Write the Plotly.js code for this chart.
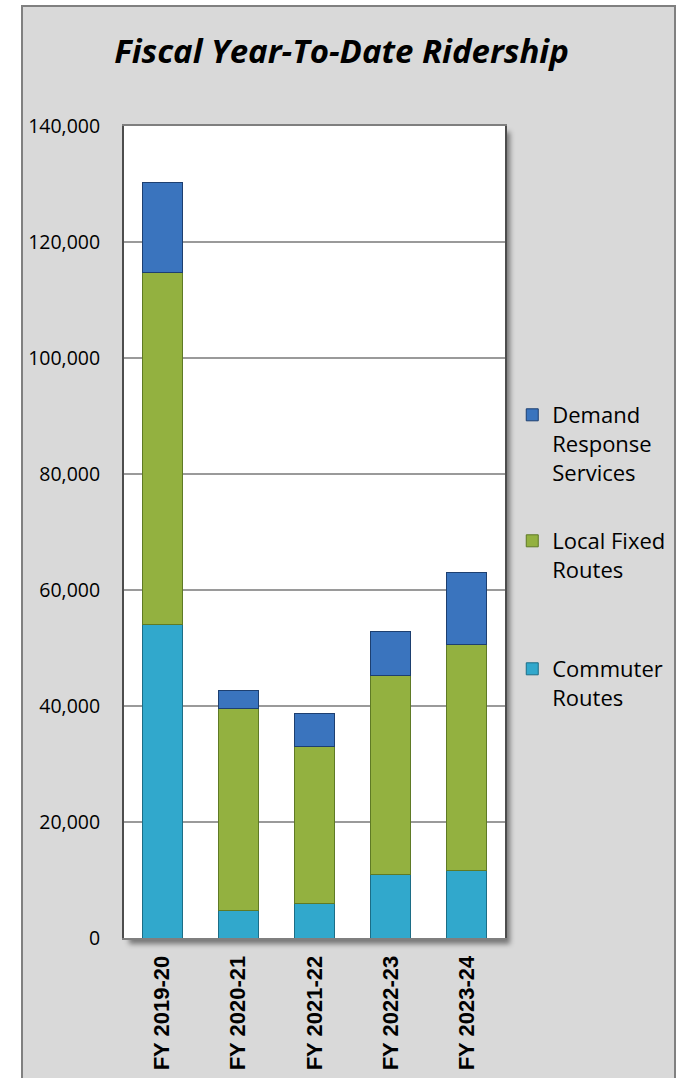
<!DOCTYPE html>
<html>
<head>
<meta charset="utf-8">
<script src="https://cdn.plot.ly/plotly-3.0.1.min.js"></script>
<style>
  html, body { margin: 0; padding: 0; background: #ffffff; }
  #frame { position: absolute; left: 21px; top: 5px; width: 651px; height: 1100px;
           background: #d9d9d9; border: 2px solid #808080; }
  #shadow { position: absolute; left: 126px; top: 128px; width: 381px; height: 812px;
            box-shadow: 3px 4px 5px rgba(0,0,0,0.45); background: #ffffff; }
  #chart { position: absolute; left: 0; top: 0; width: 683px; height: 1078px; }
</style>
</head>
<body>
<div id="frame"></div>
<div id="shadow"></div>
<div id="chart"></div>
<script>
const categories = ["FY 2019-20", "FY 2020-21", "FY 2021-22", "FY 2022-23", "FY 2023-24"];
const commuterRoutes = [54000, 4700, 5900, 10900, 11600];
const localFixedRoutes = [60800, 34800, 27100, 34300, 39000];
const demandResponse = [15400, 3100, 5700, 7600, 12400];
const yTicks = [0, 20000, 40000, 60000, 80000, 100000, 120000, 140000];

const traces = [
  { type: "bar", name: "Commuter<br>Routes", x: categories, y: commuterRoutes,
    marker: { color: "#31a8cc", line: { color: "#1c6d86", width: 1 } }, legend: "legend3" },
  { type: "bar", name: "Local Fixed<br>Routes", x: categories, y: localFixedRoutes,
    marker: { color: "#93b140", line: { color: "#5f7a25", width: 1 } }, legend: "legend2" },
  { type: "bar", name: "Demand<br>Response<br>Services", x: categories, y: demandResponse,
    marker: { color: "#3a74be", line: { color: "#1d3f70", width: 1 } }, legend: "legend" }
];

const legendBase = {
  xref: "container", yref: "container", x: 0.750, xanchor: "left", yanchor: "top",
  bgcolor: "rgba(0,0,0,0)", valign: "top",
  font: { family: "Open Sans, sans-serif", size: 22, color: "#000000" }
};

const layout = {
  width: 683, height: 1078,
  margin: { l: 124, r: 178, t: 126, b: 140, pad: 0 },
  paper_bgcolor: "rgba(0,0,0,0)",
  plot_bgcolor: "#ffffff",
  barmode: "stack",
  bargap: 0.475,
  showlegend: true,
  title: {
    text: "<b><i>Fiscal Year-To-Date Ridership</i></b>",
    x: 0.5, xanchor: "center", xref: "container",
    y: 0.952, yanchor: "middle", yref: "container",
    font: { family: "Open Sans, sans-serif", size: 33, color: "#000000" }
  },
  xaxis: {
    type: "category",
    tickangle: -90,
    ticks: "",
    ticklabelstandoff: 7,
    tickfont: { family: "Liberation Sans, Arial, sans-serif", size: 22, color: "#000000", weight: "bold" },
    showline: true, linecolor: "#7f7f7f", linewidth: 2, mirror: true,
    showgrid: false, zeroline: false, fixedrange: true
  },
  yaxis: {
    range: [0, 140000],
    tickvals: yTicks,
    tickformat: ",d",
    ticks: "",
    ticklabelstandoff: 18,
    tickfont: { family: "Open Sans, sans-serif", size: 19.5, color: "#000000" },
    showline: true, linecolor: "#4d4d4d", linewidth: 2, mirror: true,
    showgrid: true, gridcolor: "#9a9a9a", gridwidth: 2,
    zeroline: false, fixedrange: true
  },
  legend: Object.assign({}, legendBase, { y: 1 - 394 / 1078 }),
  legend2: Object.assign({}, legendBase, { y: 1 - 520 / 1078 }),
  legend3: Object.assign({}, legendBase, { y: 1 - 648 / 1078 })
};

Plotly.newPlot("chart", traces, layout, { displayModeBar: false, staticPlot: true });
</script>
</body>
</html>
